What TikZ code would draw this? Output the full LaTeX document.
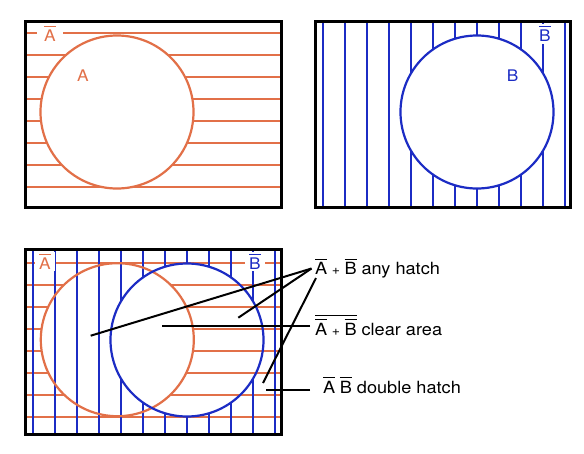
\documentclass[tikz,border=0pt]{standalone}
\usepackage{fontspec}
\setmainfont[FakeStretch=1.08]{TeX Gyre Heros}
\definecolor{hor}{RGB}{226,112,72}
\definecolor{hbl}{RGB}{28,44,196}
\newcommand\ovl[1]{\vbox{\hrule height 1.3pt\kern 2.4pt\hbox{#1}}}
\newcommand\ovlo[1]{\vbox{\hrule height 1.3pt\kern 2.6pt\hbox{#1}}}
\newcommand\pls{\hspace{4.5pt}{\fontsize{13}{13}\selectfont+}\hspace{4.5pt}}
% horizontal hatch outside a circle of radius 76.5
\newcommand\hhatch[6]{\foreach \yy in {#1}{%
  \pgfmathsetmacro\ad{abs(\yy-(#5))}%
  \ifdim\ad pt<76.5pt
    \pgfmathsetmacro\hw{sqrt(76.5*76.5-\ad*\ad)}%
    \draw[#6] (#2,\yy) -- ({#4-\hw},\yy) ({#4+\hw},\yy) -- (#3,\yy);
  \else
    \draw[#6] (#2,\yy) -- (#3,\yy);
  \fi}}
% vertical hatch outside a circle of radius 76.5
\newcommand\vhatch[6]{\foreach \xx in {#1}{%
  \pgfmathsetmacro\ad{abs(\xx-(#4))}%
  \ifdim\ad pt<76.5pt
    \pgfmathsetmacro\hw{sqrt(76.5*76.5-\ad*\ad)}%
    \draw[#6] (\xx,#2) -- (\xx,{#5-\hw}) (\xx,{#5+\hw}) -- (\xx,#3);
  \else
    \draw[#6] (\xx,#2) -- (\xx,#3);
  \fi}}
\begin{document}
\begin{tikzpicture}[x=1pt,y=-1pt,
  hatchO/.style={draw=hor,line width=2pt},
  hatchB/.style={draw=hbl,line width=2pt},
  circO/.style={draw=hor,line width=2.2pt},
  circB/.style={draw=hbl,line width=2.2pt},
  frame/.style={draw=black,line width=3pt},
  lbl/.style={font=\fontsize{16}{16}\selectfont,inner sep=0pt,anchor=base},
  gaplbl/.style={lbl,fill=white,inner xsep=4.5pt,inner ysep=2pt},
  note/.style={font=\fontsize{16.8}{16.8}\selectfont,anchor=base west,inner sep=0pt},
  lead/.style={draw=black,line width=2pt}]
\useasboundingbox[fill=white] (0,0) rectangle (584,453);

% ---------- top left: A ----------
\hhatch{32.7,54.7,76.7,98.7,120.7,142.7,164.7,186.7}{25}{281}{117}{112}{hatchO}
\draw[circO] (117,112) circle (76.5);
\draw[frame] (25,21) rectangle (281,207);
\node[gaplbl,text=hor,inner xsep=7pt] (nA1) at (50,41.5) {\ovl{A}};
\node[lbl,text=hor] (lA1) at (83,81.5) {A};

% ---------- top right: B ----------
\vhatch{322.7,344.7,366.7,388.7,410.7,432.7,454.7,476.7,498.7,520.7,542.7,564.7}{21}{207}{477}{112}{hatchB}
\draw[circB] (477,112) circle (76.5);
\draw[frame] (315,21) rectangle (570,207);
\node[gaplbl,text=hbl,inner xsep=3pt] (nB1) at (545,41.5) {\ovl{B}};
\node[lbl,text=hbl] (lB1) at (512.7,81.5) {B};

% ---------- bottom: combined ----------
\hhatch{262.7,284.7,306.7,328.7,350.7,372.7,394.7,416.7}{25}{281}{117.3}{339.7}{hatchO}
\vhatch{32.7,54.7,76.7,98.7,120.7,142.7,164.7,186.7,208.7,230.7,252.7,274.7}{249}{434}{187}{340}{hatchB}
\draw[circO] (117.3,339.7) circle (76.5);
\draw[circB] (187,340) circle (76.5);
\draw[frame] (25,249) rectangle (281,434);
\node[gaplbl,text=hor] (nA2) at (45,269) {\ovl{A}};
\node[gaplbl,text=hbl] (nB2) at (255,269) {\ovl{B}};

% ---------- annotations ----------
\node[note] (t1) at (315,274.5) {\ovl{A}\pls\ovl{B} any hatch};
\node[note] (t2) at (315,335) {\ovlo{\ovl{A}\pls\ovl{B}} clear area};
\node[note] (t3) at (323,393) {\ovl{A}\hspace{4.5pt}\ovl{B} double hatch};

\coordinate (p1) at (311.5,268.5);
\coordinate (p1b) at (316,278);
\coordinate (p2) at (310,326);
\coordinate (p3) at (310,390);
\coordinate (e1) at (90.7,335.7);
\coordinate (e2) at (238.3,317.7);
\coordinate (e3) at (263,383);
\coordinate (e4) at (161.7,326);
\coordinate (e5) at (265.7,390);
\draw[lead] (p1) -- (e1);
\draw[lead] (p1) -- (e2);
\draw[lead] (p1b) -- (e3);
\draw[lead] (p2) -- (e4);
\draw[lead] (p3) -- (e5);
\end{tikzpicture}
\end{document}
